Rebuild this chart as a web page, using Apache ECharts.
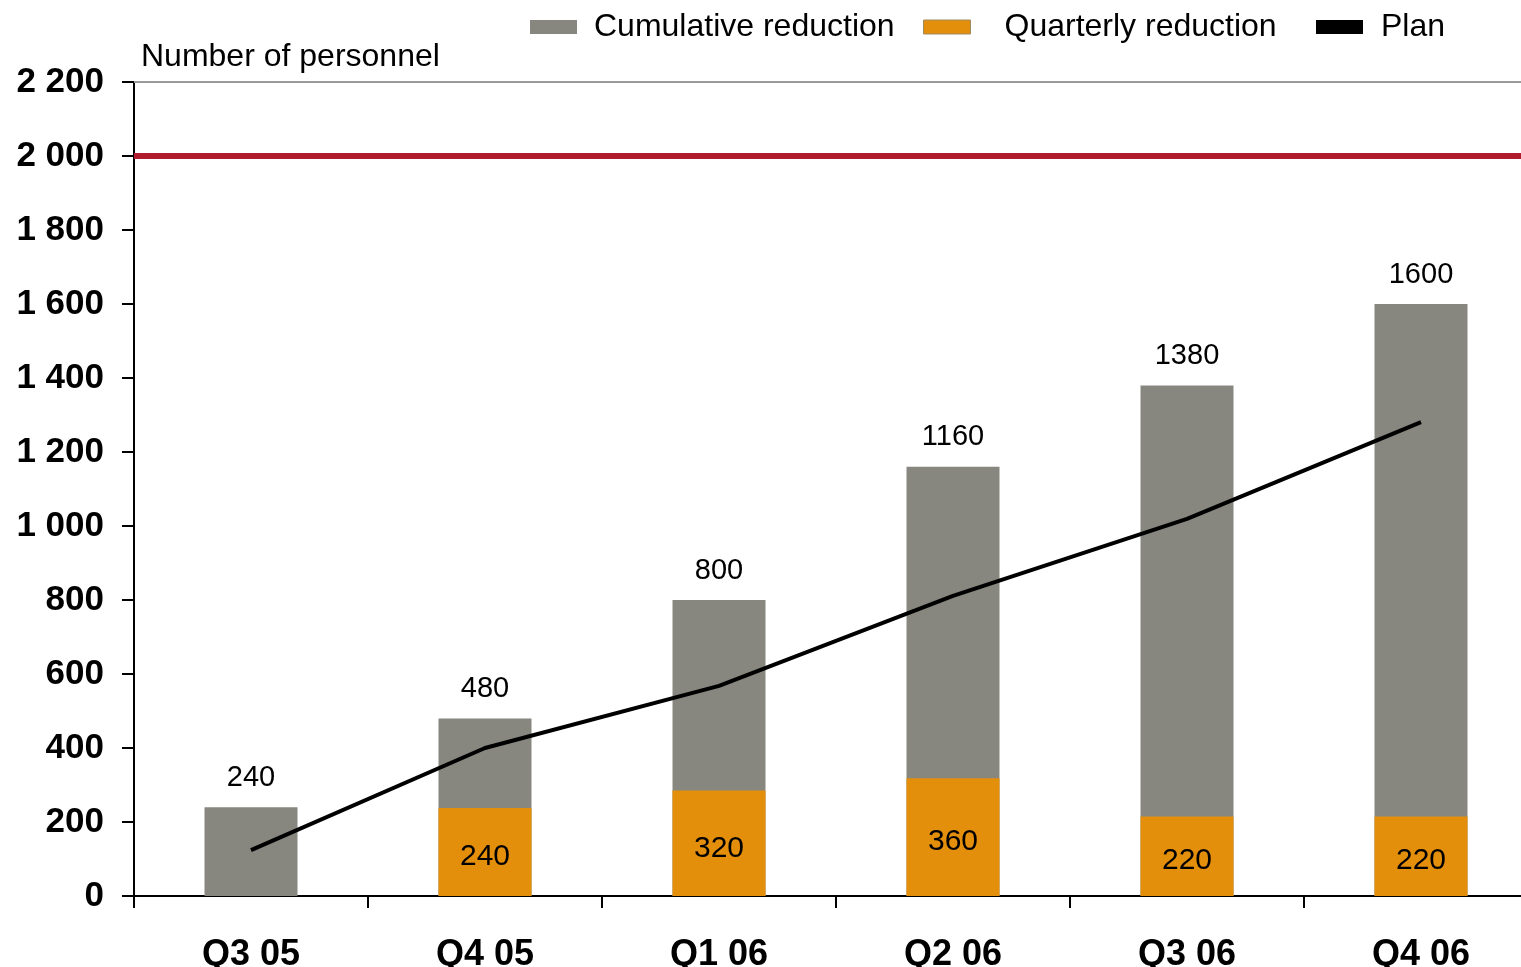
<!DOCTYPE html>
<html>
<head>
<meta charset="utf-8">
<script src="https://cdn.jsdelivr.net/npm/echarts@6/dist/echarts.min.js"></script>
<style>
html,body{margin:0;padding:0;background:#fff;}
#chart{width:1521px;height:967px;}
</style>
</head>
<body>
<div id="chart"></div>
<script>
const categories = ['Q3 05', 'Q4 05', 'Q1 06', 'Q2 06', 'Q3 06', 'Q4 06'];
const cumulative = [240, 480, 800, 1160, 1380, 1600];
const quarterlyBars = [null, 238, 285, 318, 215, 215];
const quarterlyLabels = [null, 240, 320, 360, 220, 220];
const plan = [124, 400, 568, 811, 1019, 1281];
const target = 2000;
const yMin = 0, yMax = 2200, yStep = 200;

const FONT = "'Liberation Sans', Arial, sans-serif";
const chart = echarts.init(document.getElementById('chart'), null, {renderer: 'canvas'});

function fmtThousands(v) {
  return String(v).replace(/\B(?=(\d{3})+(?!\d))/g, ' ');
}

const legendText = {fontFamily: FONT, fontSize: 32, color: '#000'};

chart.setOption({
  animation: false,
  backgroundColor: '#fff',
  title: {
    text: 'Number of personnel',
    left: 136, top: 36,
    textStyle: {fontFamily: FONT, fontSize: 32, fontWeight: 'normal', color: '#000'}
  },
  legend: [
    {data: [{name: 'Cumulative reduction', icon: 'rect'}], left: 530, top: 11, padding: 0,
     itemWidth: 47, itemHeight: 14, itemGap: 0,
     textStyle: Object.assign({padding: [0, 0, 0, 12]}, legendText)},
    {data: [{name: 'Quarterly reduction', icon: 'rect', itemStyle: {borderColor: '#a08a60', borderWidth: 1}}],
     left: 923, top: 11, padding: 0, itemWidth: 47, itemHeight: 14, itemGap: 0,
     textStyle: Object.assign({padding: [0, 0, 0, 29]}, legendText)},
    {data: [{name: 'Plan', icon: 'rect'}], left: 1316, top: 11, padding: 0, itemWidth: 47, itemHeight: 14, itemGap: 0,
     textStyle: Object.assign({padding: [0, 0, 0, 13]}, legendText)}
  ],
  grid: {left: 134, top: 82, width: 1404, height: 814, containLabel: false, outerBoundsMode: 'none'},
  xAxis: [
    {
      type: 'category', data: categories, position: 'bottom',
      axisLine: {lineStyle: {color: '#000', width: 2}},
      axisTick: {show: true, length: 12, inside: false, lineStyle: {color: '#000', width: 2}},
      axisLabel: {fontFamily: FONT, fontSize: 36, fontWeight: 'bold', color: '#000', margin: 41}
    },
    {
      type: 'category', data: categories, position: 'top',
      axisLine: {lineStyle: {color: '#9a9a9a', width: 2}},
      axisTick: {show: false}, axisLabel: {show: false}
    }
  ],
  yAxis: {
    type: 'value', min: yMin, max: yMax, interval: yStep,
    axisLine: {show: true, lineStyle: {color: '#000', width: 2}},
    axisTick: {show: true, length: 12, lineStyle: {color: '#000', width: 2}},
    splitLine: {show: false},
    axisLabel: {fontFamily: FONT, fontSize: 35, fontWeight: 'bold', color: '#000', margin: 30,
                formatter: fmtThousands}
  },
  series: [
    {
      name: 'Cumulative reduction', type: 'bar', data: cumulative, barWidth: 93, barGap: '-100%',
      itemStyle: {color: '#878780'},
      label: {show: true, position: 'top', distance: 15, fontFamily: FONT, fontSize: 29, color: '#000'},
      markLine: {
        silent: true, symbol: 'none', label: {show: false},
        lineStyle: {color: '#b01c2e', width: 6, type: 'solid'},
        data: [{yAxis: target}]
      }
    },
    {
      name: 'Quarterly reduction', type: 'bar', data: quarterlyBars, barWidth: 93, barGap: '-100%',
      itemStyle: {color: '#e48f0b'},
      label: {show: true, position: 'inside', offset: [0, 5], fontFamily: FONT, fontSize: 30, color: '#000',
              formatter: p => quarterlyLabels[p.dataIndex] == null ? '' : String(quarterlyLabels[p.dataIndex])}
    },
    {
      name: 'Plan', type: 'line', data: plan, showSymbol: false, symbol: 'none',
      lineStyle: {color: '#000', width: 4}, itemStyle: {color: '#000'}, z: 5
    }
  ]
});
</script>
</body>
</html>
